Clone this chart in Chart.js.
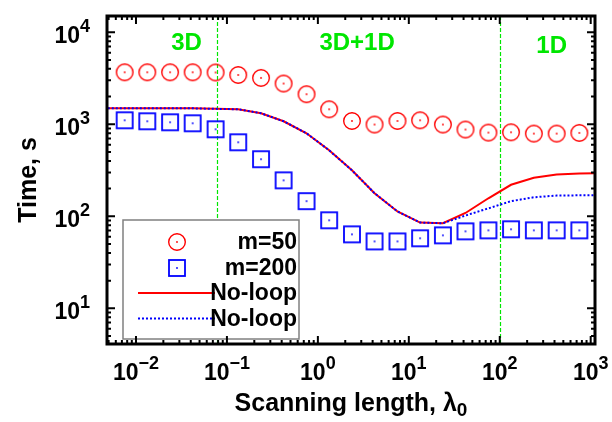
<!DOCTYPE html>
<html>
<head>
<meta charset="utf-8">
<script src="https://cdn.jsdelivr.net/npm/chart.js@4/dist/chart.umd.min.js"></script>
<style>
body{margin:0;background:#fff;}
</style>
</head>
<body>
<canvas id="grafica-tiempos" width="612" height="422"></canvas>
<script>
// valores
var lambdas=[0.0075,0.0133,0.0237,0.042,0.075,0.133,0.237,0.42,0.75,1.33,2.37,4.2,7.5,13.3,23.7,42,75,133,237,422,750];
var tiempoM50=[3670,3670,3670,3670,3650,3430,3190,2770,2120,1455,1086,993,1086,1105,993,876,812,818,792,792,805];
var tiempoM200=[1105,1078,1051,1025,882,637,417,246,146,90.5,63.7,53.4,53.4,57.7,62.1,68.7,70.4,72.3,70.4,70.4,70.4];
var lambdasCurva=[0.004,0.0075,0.0133,0.0237,0.042,0.075,0.133,0.237,0.42,0.75,1.33,2.37,4.2,7.5,13.3,23.7,42,75,133,237,422,750,1300];
var noLoopRojo=[1490,1490,1490,1490,1490,1470,1455,1317,1078,798,521,316,178,113,85.6,84,108.7,157,220,262,284,292,293];
var noLoopAzul=[1490,1490,1490,1490,1490,1470,1455,1317,1078,798,521,316,178,113,85.6,84,102,122,146,161,168,169,169];
var etiquetasX=[-2,-1,0,1,2,3];
var etiquetasY=[1,2,3,4];
var regiones=["3D","3D+1D","1D"];
var regionesX=[0.036,2.7,372];
var regionesY=[6370,6370,5920];
var limitesRegion=[0.078,100];

var verde="#00e600";
var fuente="'Liberation Sans', Arial, sans-serif";

function puntos(xs,ys){
  return xs.map(function(v,i){return {x:v,y:ys[i]};});
}

// simbolos con punto central, como en gnuplot
function simbolo(tipo,color){
  var c=document.createElement("canvas");
  c.width=22;c.height=22;
  var g=c.getContext("2d");
  g.strokeStyle=color;g.fillStyle=color;
  if(tipo==="circulo"){
    g.lineWidth=1.4;
    g.beginPath();g.arc(11,11,8.3,0,Math.PI*2);g.stroke();
  }else{
    g.lineWidth=1.8;
    g.strokeRect(3,3,16,16);
  }
  g.beginPath();g.arc(11,11,0.9,0,Math.PI*2);g.fill();
  return c;
}
var circuloRojo=simbolo("circulo","rgb(255,0,0)");
var cuadroAzul=simbolo("cuadro","rgb(0,0,255)");

function potencia(c,exp,x,y,alinear){
  var txt=String(exp).replace("-","\u2212");
  c.font="bold 23px "+fuente;
  var w1=c.measureText("10").width;
  c.font="bold 18px "+fuente;
  var w2=c.measureText(txt).width;
  var x0=alinear==="center"?x-(w1+w2)/2:x-(w1+w2);
  c.textAlign="left";
  c.textBaseline="alphabetic";
  c.font="bold 23px "+fuente;
  c.fillText("10",x0,y);
  c.font="bold 18px "+fuente;
  c.fillText(txt,x0+w1,y-11);
}

var marco={
  id:"marco",
  beforeDatasetsDraw:function(chart){
    var c=chart.ctx,a=chart.chartArea,sx=chart.scales.x,sy=chart.scales.y;
    c.save();
    c.strokeStyle=verde;c.lineWidth=1.2;c.setLineDash([4,2]);
    limitesRegion.forEach(function(v){
      var px=Math.round(sx.getPixelForValue(v))+0.5;
      c.beginPath();c.moveTo(px,a.top);c.lineTo(px,a.bottom);c.stroke();
    });
    c.setLineDash([]);
    c.fillStyle=verde;c.font="bold 24px "+fuente;c.textAlign="center";
    regiones.forEach(function(t,i){
      c.fillText(t,sx.getPixelForValue(regionesX[i]),sy.getPixelForValue(regionesY[i]));
    });
    c.restore();
  },
  afterDatasetsDraw:function(chart){
    var c=chart.ctx,a=chart.chartArea,sx=chart.scales.x,sy=chart.scales.y;
    var ds=chart.data.datasets;
    c.save();
    // leyenda
    c.fillStyle="#fff";c.fillRect(123,220,176,119);
    c.strokeStyle="#808080";c.lineWidth=1.5;c.strokeRect(123,220,176,119);
    var orden=[0,1,2,3];
    orden.forEach(function(k,i){
      var d=ds[k],base=249+i*25.5,ym=base-7;
      if(d.pointStyle instanceof HTMLCanvasElement){
        c.drawImage(d.pointStyle,177-11,Math.round(ym)-11);
      }else{
        c.strokeStyle=d.borderColor;c.lineWidth=d.borderWidth;
        c.setLineDash(d.borderDash||[]);
        c.beginPath();c.moveTo(138,ym);c.lineTo(215,ym);c.stroke();
        c.setLineDash([]);
      }
      c.fillStyle="#000";c.font="bold 23px "+fuente;c.textAlign="right";
      c.fillText(d.label,297,base);
    });
    // marcas en los cuatro lados
    c.strokeStyle="#000";c.lineWidth=2;
    for(var e=-3;e<=4;e++){
      for(var m=1;m<=9;m++){
        var v=m*Math.pow(10,e),largo=m===1?8:4;
        if(v>=sx.min&&v<=sx.max){
          var px=sx.getPixelForValue(v);
          c.beginPath();c.moveTo(px,a.bottom);c.lineTo(px,a.bottom-largo);
          c.moveTo(px,a.top);c.lineTo(px,a.top+largo);c.stroke();
        }
        if(v>=sy.min&&v<=sy.max){
          var py=sy.getPixelForValue(v);
          c.beginPath();c.moveTo(a.left,py);c.lineTo(a.left+largo,py);
          c.moveTo(a.right,py);c.lineTo(a.right-largo,py);c.stroke();
        }
      }
    }
    c.lineWidth=3;
    c.strokeRect(a.left,a.top,a.right-a.left,a.bottom-a.top);
    // etiquetas de los ejes
    c.fillStyle="#000";
    etiquetasX.forEach(function(e){
      potencia(c,e,sx.getPixelForValue(Math.pow(10,e)),380,"center");
    });
    etiquetasY.forEach(function(e){
      potencia(c,e,90,sy.getPixelForValue(Math.pow(10,e))+11,"right");
    });
    // titulos
    c.font="bold 25px "+fuente;c.textAlign="left";
    var t1="Scanning length, \u03bb";
    var w1=c.measureText(t1).width;
    c.font="bold 19px "+fuente;
    var w2=c.measureText("0").width;
    var x0=(a.left+a.right)/2-(w1+w2)/2;
    c.font="bold 25px "+fuente;c.fillText(t1,x0,411);
    c.font="bold 19px "+fuente;c.fillText("0",x0+w1,416);
    c.save();
    c.translate(36,(a.top+a.bottom)/2);c.rotate(-Math.PI/2);
    c.font="bold 25px "+fuente;c.textAlign="center";
    c.fillText("Time, s",0,0);
    c.restore();
    c.restore();
  }
};

var contexto=document.getElementById("grafica-tiempos");
var grafica=new Chart(contexto,{
  type:"scatter",
  data:{
    datasets:[{
      label:"m=50",
      data:puntos(lambdas,tiempoM50),
      pointStyle:circuloRojo,
      pointRadius:10,
      order:0
    },{
      label:"m=200",
      data:puntos(lambdas,tiempoM200),
      pointStyle:cuadroAzul,
      pointRadius:10,
      order:1
    },{
      label:"No-loop",
      data:puntos(lambdasCurva,noLoopRojo),
      showLine:true,
      pointRadius:0,
      borderColor:"rgb(255,0,0)",
      borderWidth:2,
      tension:0,
      order:3
    },{
      label:"No-loop",
      data:puntos(lambdasCurva,noLoopAzul),
      showLine:true,
      pointRadius:0,
      borderColor:"rgb(0,0,255)",
      borderWidth:2,
      borderDash:[2,2],
      tension:0,
      order:2
    }]
  },
  options:{
    responsive:false,
    animation:false,
    devicePixelRatio:1,
    layout:{padding:{left:107,top:16,right:17,bottom:78}},
    scales:{
      x:{type:"logarithmic",min:0.0048,max:1115,display:false},
      y:{type:"logarithmic",min:4.1,max:15000,display:false}
    },
    plugins:{legend:{display:false},tooltip:{enabled:false}}
  },
  plugins:[marco]
});
</script>
</body>
</html>
